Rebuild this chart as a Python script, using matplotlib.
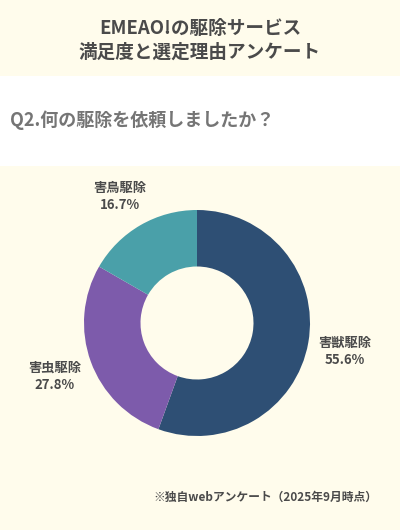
import matplotlib
matplotlib.use('Agg')
import matplotlib.pyplot as plt
from matplotlib.patches import Rectangle

plt.rcParams['font.family'] = ['Noto Sans CJK JP', 'DejaVu Sans']

categories = ['害獣駆除', '害虫駆除', '害鳥駆除']
shares = [55.6, 27.8, 16.7]
colors = ['#2E4F74', '#7D5BAB', '#4AA0A9']

title_lines = ['EMEAO!の駆除サービス', '満足度と選定理由アンケート']
question = 'Q2.何の駆除を依頼しましたか？'
note = '※独自webアンケート（2025年9月時点）'

cream = '#FFFCEC'
text_color = '#4A4A4A'

W, H = 400, 530
fig = plt.figure(figsize=(W / 100, H / 100), dpi=100)
fig.patch.set_facecolor(cream)

# white band for the question
fig.patches.append(Rectangle((0, 1 - 166 / H), 1, 90 / H, transform=fig.transFigure,
                             facecolor='white', edgecolor='none', zorder=0))

fig.text(0.5, 1 - 28 / H, title_lines[0], ha='center', va='center',
         fontsize=13.4, fontweight='bold', color=text_color)
fig.text(0.5, 1 - 52 / H, title_lines[1], ha='center', va='center',
         fontsize=13.4, fontweight='bold', color=text_color)
fig.text(10 / W, 1 - 120 / H, question, ha='left', va='center',
         fontsize=13, fontweight='bold', color='#757575')
fig.text(377 / W, 1 - 497 / H, note, ha='right', va='center',
         fontsize=8.5, fontweight='bold', color=text_color)

# donut: centre (197, 323) px, outer radius 113 px
r_px = 113
lim = 1.5
size = 2 * r_px * lim
ax = fig.add_axes([(197 - size / 2) / W, (H - 323 - size / 2) / H, size / W, size / H])
ax.pie(shares, colors=colors, startangle=90, counterclock=False, radius=1,
       wedgeprops=dict(width=0.5, linewidth=0))
ax.set_xlim(-lim, lim)
ax.set_ylim(-lim, lim)
ax.set_aspect('equal')
ax.axis('off')

label_pos = [(1.31, -0.25), (-1.26, -0.47), (-0.68, 1.12)]
for name, val, (lx, ly) in zip(categories, shares, label_pos):
    ax.text(lx, ly, '{}\n{:.1f}%'.format(name, val), ha='center', va='center',
            fontsize=9.5, fontweight='bold', color=text_color, linespacing=1.3)

fig.savefig('out.png', dpi=100, facecolor=cream)
